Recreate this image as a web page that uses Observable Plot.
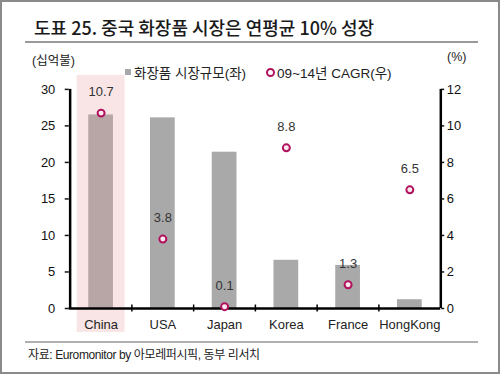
<!DOCTYPE html>
<html>
<head>
<meta charset="utf-8">
<script src="https://cdn.jsdelivr.net/npm/d3@7"></script>
<script src="https://cdn.jsdelivr.net/npm/@observablehq/plot@0.6"></script>
<style>
  html, body { margin: 0; padding: 0; background: #fff; }
  #wrap { position: relative; width: 500px; height: 374px; overflow: hidden; box-sizing: border-box; border: 2px solid #8a8a8a; font-family: "Liberation Sans", "Noto Sans CJK KR", sans-serif; color: #222; }
  .abs { position: absolute; white-space: nowrap; }
  #title { left: 32px; top: 12px; font-family: "Noto Sans CJK KR", sans-serif; font-size: 18px; font-weight: 500; letter-spacing: 0px; color: #1a1a1a; }
  #rule1 { left: 23px; top: 39px; width: 453px; height: 2px; background: #9a9a9a; }
  #rule2 { left: 23px; top: 339px; width: 453px; height: 2px; background: #b0b0b0; }
  #unitL { left: 30px; top: 48px; font-size: 12.5px; }
  #unitR { left: 445px; top: 48px; font-size: 12.5px; }
  #legend { left: 123px; top: 60px; font-size: 13.5px; display: flex; align-items: center; }
  #legend .sq { display: inline-block; width: 6px; height: 6px; background: #a9a9a9; margin-right: 3px; }
  #legend .ci { display: inline-block; width: 5px; height: 5px; border: 2px solid #b0125e; border-radius: 50%; margin-right: 2px; margin-left: 20px; }
  #source { left: 26px; top: 343px; font-size: 12px; letter-spacing: -0.4px; }
  #chart { position: absolute; left: -2px; top: 58px; }
</style>
</head>
<body>
<div id="wrap">
  <div id="title" class="abs">도표 25. 중국 화장품 시장은 연평균 10% 성장</div>
  <div id="rule1" class="abs"></div>
  <div id="unitL" class="abs">(십억불)</div>
  <div id="unitR" class="abs">(%)</div>
  <div id="legend" class="abs"><span class="sq"></span>화장품 시장규모(좌)<span class="ci"></span>09~14년 CAGR(우)</div>
  <div id="chart"></div>
  <div id="rule2" class="abs"></div>
  <div id="source" class="abs">자료: Euromonitor by 아모레퍼시픽, 동부 리서치</div>
</div>
<script>
const categories = ["China", "USA", "Japan", "Korea", "France", "HongKong"];
const marketSize = [26.5, 26.1, 21.4, 6.6, 5.9, 1.2];   // 십억불 (left axis)
const cagr = [10.7, 3.8, 0.1, 8.8, 1.3, 6.5];           // % (right axis)
const leftTicks = [0, 5, 10, 15, 20, 25, 30];
const rightTicks = [0, 2, 4, 6, 8, 10, 12];
const highlight = "China";

const leftMax = 30, rightMax = 12;
const ratio = leftMax / rightMax;
const data = categories.map((c, i) => ({cat: c, size: marketSize[i], cagr: cagr[i]}));

const W = 500, H = 290, mL = 69, mR = 58, mT = 29, mB = 41;
const bw = (W - mL - mR) / categories.length;
const pxPerUnit = (H - mT - mB) / leftMax;

const chart = Plot.plot({
  width: W, height: H,
  marginTop: mT, marginBottom: mB, marginLeft: mL, marginRight: mR,
  style: {fontFamily: "'Liberation Sans', 'Noto Sans CJK KR', sans-serif", background: "transparent", overflow: "visible"},
  x: {domain: categories, padding: 0, axis: null},
  y: {domain: [0, leftMax], axis: null},
  marks: [
    Plot.barY([highlight], {x: d => d, y1: -24 / pxPerUnit, y2: leftMax + 14 / pxPerUnit, fill: "#f9e5e5", insetLeft: 7, insetRight: 7}),
    Plot.barY(data, {x: "cat", y: "size", fill: d => d.cat === highlight ? "#b8a6a6" : "#a9a9a9", insetLeft: (bw - 25) / 2, insetRight: (bw - 25) / 2}),
    Plot.axisY({anchor: "left", label: null, ticks: leftTicks, tickSize: 4, tickPadding: 10, fontSize: 13, strokeWidth: 1.5, color: "#111"}),
    Plot.axisY({anchor: "right", label: null, ticks: rightTicks.map(t => t * ratio), tickFormat: d => d / ratio, tickSize: 3, tickPadding: 3, fontSize: 13, strokeWidth: 1.5, color: "#111"}),
    Plot.ruleX([categories[0]], {x: d => d, dx: -bw / 2, y1: 0, y2: leftMax, stroke: "#000", strokeWidth: 2.5}),
    Plot.ruleX([categories[categories.length - 1]], {x: d => d, dx: bw / 2, y1: 0, y2: leftMax, stroke: "#000", strokeWidth: 2.5}),
    Plot.ruleY([0], {stroke: "#000", strokeWidth: 2.5}),
    Plot.ruleX(categories.slice(1), {x: d => d, dx: -bw / 2, y1: -3.5 / pxPerUnit, y2: 3.5 / pxPerUnit, stroke: "#000", strokeWidth: 1.5}),
    Plot.text(categories, {x: d => d, y: 0, dy: 16, fontSize: 13, fill: "#222"}),
    Plot.dot(data, {x: "cat", y: d => d.cagr * ratio, r: 3.5, stroke: "#b0125e", strokeWidth: 2, fill: "#fbeaf0"}),
    Plot.text(data, {x: "cat", y: d => d.cagr * ratio, dy: -21, text: d => d.cagr.toFixed(1), fontSize: 13, fill: "#333"})
  ]
});
document.getElementById("chart").appendChild(chart);
</script>
</body>
</html>
